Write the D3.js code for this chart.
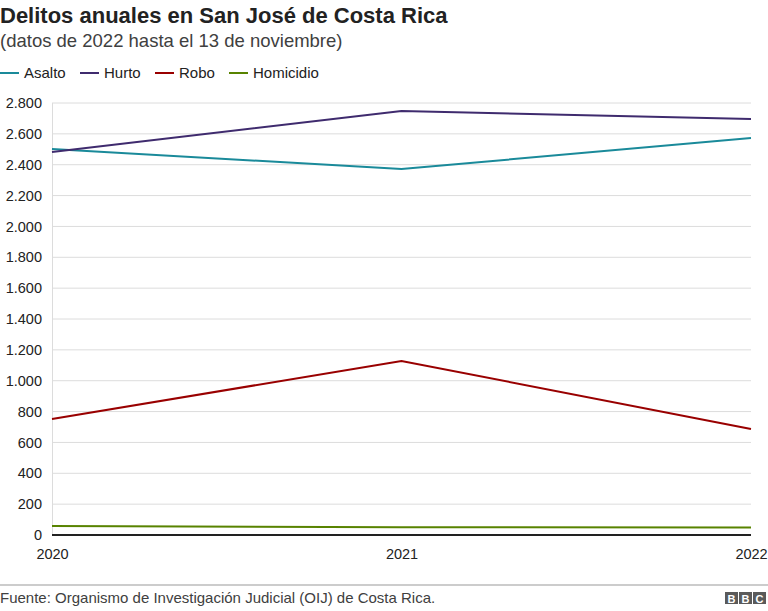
<!DOCTYPE html>
<html><head><meta charset="utf-8">
<script src="https://cdn.jsdelivr.net/npm/d3@7"></script>
<style>body{margin:0;background:#fff}svg{display:block;font-family:"Liberation Sans",Arial,Helvetica,sans-serif}</style>
</head><body><svg id="c" width="768" height="611"></svg>
<script>
const years = [2020, 2021, 2022];
const seriesNames = ["Asalto", "Hurto", "Robo", "Homicidio"];
const asalto = [2502, 2372, 2573];
const hurto = [2482, 2748, 2696];
const robo = [752, 1128, 687];
const homicidio = [58, 50, 49];
const yTicks = [0, 200, 400, 600, 800, 1000, 1200, 1400, 1600, 1800, 2000, 2200, 2400, 2600, 2800];
const colors = ["#1a8a9a", "#3f2b6e", "#990000", "#588300"];
const seriesValues = [asalto, hurto, robo, homicidio];

const svg = d3.select("#c");
const x = d3.scaleLinear().domain([2020, 2022]).range([52, 751]);
const y = d3.scaleLinear().domain([0, 2800]).range([535, 103]);
const fmt = v => d3.format(",")(v).replace(/,/g, ".");

// title
svg.append("text").attr("x", 0).attr("y", 23).attr("font-size", 22).attr("font-weight", "bold").attr("fill", "#222").text("Delitos anuales en San José de Costa Rica");
svg.append("text").attr("x", 0).attr("y", 47).attr("font-size", 18.5).attr("fill", "#404040").text("(datos de 2022 hasta el 13 de noviembre)");

// legend
const legX = [0, 80, 155, 229];
seriesNames.forEach((n, i) => {
  const g = svg.append("g").attr("transform", `translate(${legX[i]},73)`);
  g.append("line").attr("x1", 0).attr("x2", 19).attr("y1", 0).attr("y2", 0).attr("stroke", colors[i]).attr("stroke-width", 2);
  g.append("text").attr("x", 24).attr("y", 5).attr("font-size", 15).attr("fill", "#222").text(n);
});

// grid
svg.append("g").selectAll("line").data(yTicks.filter(d => d > 0)).join("line")
  .attr("x1", 52).attr("x2", 751).attr("y1", d => y(d)).attr("y2", d => y(d))
  .attr("stroke", "#dcdcdc").attr("stroke-width", 1);
svg.append("line").attr("x1", 52.5).attr("x2", 52.5).attr("y1", 103).attr("y2", 535).attr("stroke", "#dcdcdc");

// y axis labels
const yAxis = d3.axisLeft(y).tickValues(yTicks).tickFormat(fmt).tickSize(0).tickPadding(0);
const ya = svg.append("g").attr("transform", "translate(42,0)").call(yAxis);
ya.select(".domain").remove();
ya.selectAll("text").attr("font-size", 14.5).attr("fill", "#222").attr("font-family", "Liberation Sans, Arial, sans-serif");

// x axis labels
const xAxis = d3.axisBottom(x).tickValues(years).tickFormat(d3.format("d")).tickSize(0).tickPadding(0);
const xa = svg.append("g").attr("transform", "translate(0,549)").call(xAxis);
xa.select(".domain").remove();
xa.selectAll("text").attr("font-size", 14.5).attr("fill", "#222").attr("font-family", "Liberation Sans, Arial, sans-serif");

// lines
const line = d3.line().x((d, i) => x(years[i])).y(d => y(d));
seriesValues.forEach((vals, i) => {
  svg.append("path").attr("d", line(vals)).attr("fill", "none").attr("stroke", colors[i]).attr("stroke-width", 2);
});

// zero baseline
svg.append("line").attr("x1", 52).attr("x2", 751).attr("y1", y(0)).attr("y2", y(0)).attr("stroke", "#222").attr("stroke-width", 2);

// footer
svg.append("line").attr("x1", 0).attr("x2", 768).attr("y1", 585).attr("y2", 585).attr("stroke", "#bbb").attr("stroke-width", 1.5);
svg.append("text").attr("x", 0).attr("y", 603).attr("font-size", 15).attr("fill", "#404040").text("Fuente: Organismo de Investigación Judicial (OIJ) de Costa Rica.");
["B", "B", "C"].forEach((c, i) => {
  svg.append("rect").attr("x", 725 + i * 14).attr("y", 592).attr("width", 13).attr("height", 12).attr("fill", "#5a5a5a");
  svg.append("text").attr("x", 725 + i * 14 + 6.5).attr("y", 602.5).attr("text-anchor", "middle").attr("font-size", 11).attr("font-weight", "bold").attr("fill", "#fff").text(c);
});
</script></body></html>
